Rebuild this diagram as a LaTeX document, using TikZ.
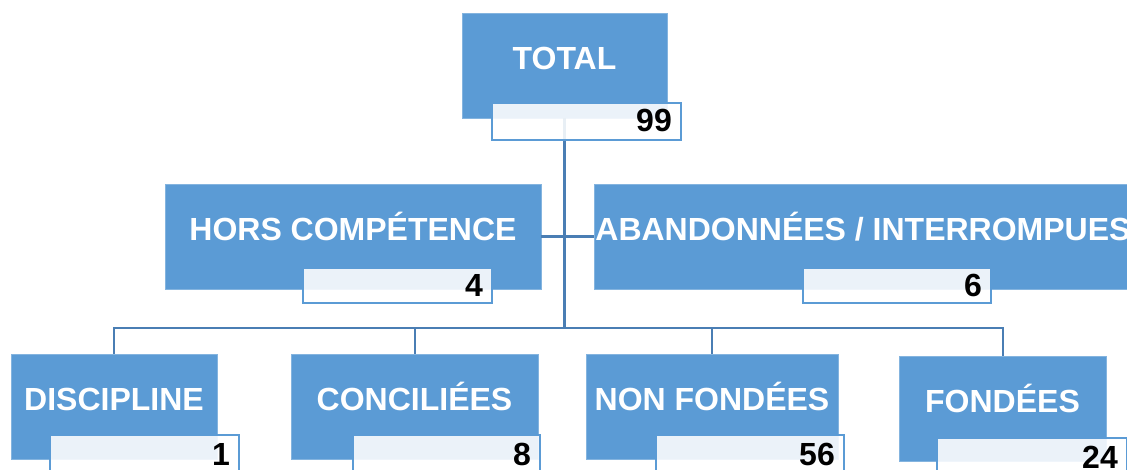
\documentclass[tikz,border=0pt]{standalone}
\usepackage{fontspec}
\setmainfont{Liberation Sans}
\usepackage{xcolor}
\usepackage{tikz}
\definecolor{boxblue}{RGB}{91,155,213}
\definecolor{linkblue}{RGB}{74,126,180}

\begin{document}
\begin{tikzpicture}[x=1pt, y=-1pt,
  unit/.style={rectangle, fill=boxblue, draw=boxblue!75!white, line width=0.8pt, inner sep=0pt, outer sep=0pt},
  count/.style={rectangle, fill=white, fill opacity=0.88, draw=boxblue, draw opacity=1, line width=1.6pt, inner sep=0pt, outer sep=0pt, minimum height=37pt},
  title/.style={text=white, font=\bfseries\fontsize{32}{38}\selectfont, inner sep=0pt, text height=23pt, text depth=0pt},
  tally/.style={text=black, font=\bfseries\fontsize{32}{38}\selectfont, inner sep=0pt, text height=23pt, text depth=0pt, anchor=east},
  link/.style={draw=linkblue, line width=2pt}]
  \useasboundingbox (0,0) rectangle (1127,470);
  \node[unit, minimum width=205pt, minimum height=105pt] (total) at (564.5,65.5) {};
  \node[unit, minimum width=376pt, minimum height=105pt] (hors) at (353,236.5) {};
  \node[unit, minimum width=538pt, minimum height=105pt] (aban) at (863,236.5) {};
  \node[unit, minimum width=206pt, minimum height=105pt] (disc) at (114,406.5) {};
  \node[unit, minimum width=247pt, minimum height=105pt] (conc) at (414.5,406.5) {};
  \node[unit, minimum width=252pt, minimum height=105pt] (nonf) at (712,406.5) {};
  \node[unit, minimum width=207pt, minimum height=105pt] (fond) at (1002.5,408.5) {};
  \coordinate (bus) at (564.5,328);
  \draw[link, line width=2.6pt] (total.south) -- (bus);
  \draw[link, line width=2.4pt] (hors.east) -- (aban.west);
  \draw[link] (bus) -| (disc.north);
  \draw[link] (bus) -| (conc.north);
  \draw[link] (bus) -| (nonf.north);
  \draw[link] (bus) -| (fond.north);
  \node[count, minimum width=189pt] (total-n) at (586.5,121.5) {};
  \node[count, minimum width=189pt, minimum height=35pt] (hors-n) at (397.5,285.5) {};
  \node[count, minimum width=188pt, minimum height=35pt] (aban-n) at (897,285.5) {};
  \node[count, minimum width=189pt] (disc-n) at (144.5,453.5) {};
  \node[count, minimum width=187pt] (conc-n) at (446.5,453.5) {};
  \node[count, minimum width=188pt] (nonf-n) at (750,453.5) {};
  \node[count, minimum width=190pt] (fond-n) at (1032,456.5) {};
  \node[title] (total-t) at ([yshift=7.5pt]total.center) {TOTAL};
  \node[title] (hors-t) at ([yshift=7.5pt]hors.center) {HORS COMPÉTENCE};
  \node[title] (aban-t) at ([yshift=7pt]aban.center) {ABANDONNÉES / INTERROMPUES};
  \node[title] (disc-t) at ([yshift=7.5pt]disc.center) {DISCIPLINE};
  \node[title] (conc-t) at ([yshift=7.5pt]conc.center) {CONCILIÉES};
  \node[title] (nonf-t) at ([yshift=7.5pt]nonf.center) {NON FONDÉES};
  \node[title] (fond-t) at ([yshift=7.5pt]fond.center) {FONDÉES};
  \node[tally] (total-v) at ([xshift=-9pt, yshift=1pt]total-n.east) {99};
  \node[tally] (hors-v) at ([xshift=-9pt]hors-n.east) {4};
  \node[tally] (aban-v) at ([xshift=-9pt]aban-n.east) {6};
  \node[tally] (disc-v) at ([xshift=-9pt]disc-n.east) {1};
  \node[tally] (conc-v) at ([xshift=-9pt]conc-n.east) {8};
  \node[tally] (nonf-v) at ([xshift=-9pt]nonf-n.east) {56};
  \node[tally] (fond-v) at ([xshift=-9pt]fond-n.east) {24};
\end{tikzpicture}
\end{document}
